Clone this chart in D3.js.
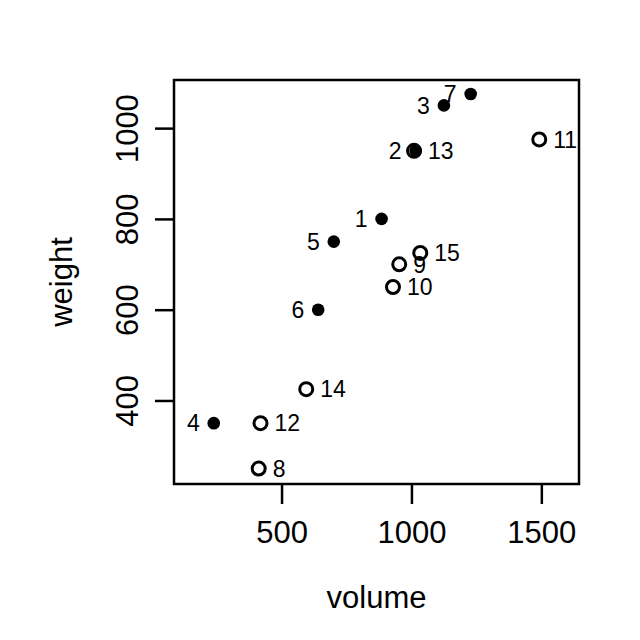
<!DOCTYPE html>
<html><head><meta charset="utf-8">
<script src="https://cdn.jsdelivr.net/npm/d3@7"></script>
<style>body{margin:0;background:#fff}text{font-family:"Liberation Sans",Arial,sans-serif;fill:#000}</style>
</head><body>
<svg id="c" width="640" height="640"></svg>
<script>
// allbacks data (DAAG)
const ids     = [1,2,3,4,5,6,7,8,9,10,11,12,13,14,15];
const volume  = [885,1016,1125,239,701,641,1228,412,953,929,1492,419,1010,595,1034];
const weight  = [800,950,1050,350,750,600,1075,250,700,650,975,350,950,425,725];
const cover   = ["hb","hb","hb","hb","hb","hb","hb","pb","pb","pb","pb","pb","pb","pb","pb"];
const labelSide = ["left","left","left","left","left","left","left","right","right","right","right","right","right","right","right"];
const xTicks = [500,1000,1500];
const yTicks = [400,600,800,1000];

const svg = d3.select("#c");
const L=174,R=579,T=80,B=484;
const x = d3.scaleLinear().domain([86,1645]).range([L,R]);
const y = d3.scaleLinear().domain([216,1106]).range([B,T]);

const data = ids.map((id,i)=>({id,v:volume[i],w:weight[i],c:cover[i],s:labelSide[i]}));

// axes
const xa = svg.append("g").attr("transform",`translate(0,${B})`)
  .call(d3.axisBottom(x).tickValues(xTicks).tickSize(20).tickPadding(0).tickFormat(d3.format("d")));
xa.select(".domain").remove();
xa.selectAll("line").attr("stroke","#000").attr("stroke-width",2.5);
xa.selectAll("text").attr("font-size",31).attr("y",59).attr("dy",0)
  .attr("font-family","Liberation Sans, Arial, sans-serif").attr("fill","#000");

const ya = svg.append("g").attr("transform",`translate(${L},0)`)
  .call(d3.axisLeft(y).tickValues(yTicks).tickSize(19).tickPadding(0).tickFormat(d3.format("d")));
ya.select(".domain").remove();
ya.selectAll("line").attr("stroke","#000").attr("stroke-width",2.5);
ya.selectAll("text").attr("font-size",31).attr("x",0).attr("dy",0)
  .attr("text-anchor","middle")
  .attr("transform","translate(-36,0) rotate(-90)")
  .attr("font-family","Liberation Sans, Arial, sans-serif").attr("fill","#000");

// frame
svg.append("rect").attr("x",L).attr("y",T).attr("width",R-L).attr("height",B-T)
  .attr("fill","none").attr("stroke","#000").attr("stroke-width",2.5);

// titles
svg.append("text").attr("x",(L+R)/2).attr("y",608).attr("text-anchor","middle")
  .attr("font-size",31).text("volume");
svg.append("text").attr("transform",`translate(72,${(T+B)/2}) rotate(-90)`)
  .attr("text-anchor","middle").attr("font-size",31).text("weight");

// labels
svg.append("g").selectAll("text").data(data).join("text")
  .attr("x",d=>x(d.v)+(d.s==="left"?-14:14))
  .attr("y",d=>y(d.w))
  .attr("dy","0.36em")
  .attr("text-anchor",d=>d.s==="left"?"end":"start")
  .attr("font-size",23)
  .text(d=>d.id);

// points
svg.append("g").selectAll("circle").data(data).join("circle")
  .attr("cx",d=>x(d.v)).attr("cy",d=>y(d.w))
  .attr("r",d=>d.c==="hb"?6.3:6.5)
  .attr("fill",d=>d.c==="hb"?"#000":"none")
  .attr("stroke",d=>d.c==="hb"?"none":"#000")
  .attr("stroke-width",3);
</script>
</body></html>
